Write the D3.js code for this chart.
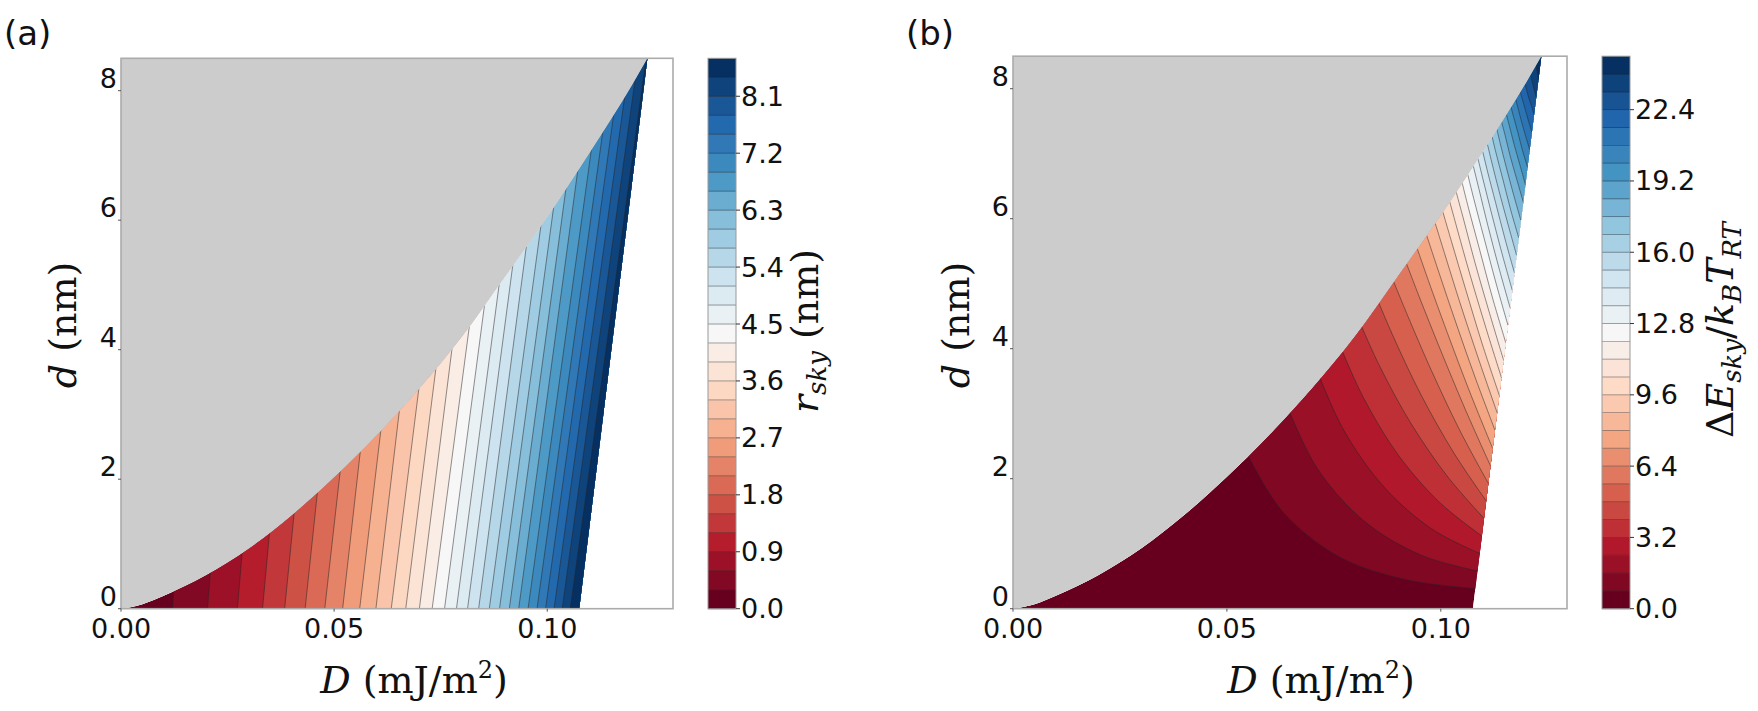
<!DOCTYPE html>
<html>
<head>
<meta charset="utf-8">
<style>
    body { margin: 0; background: white; }
    svg { display: block; }
    .tick { font-family: "DejaVu Sans", sans-serif; font-size: 27px; fill: #111; }
    .math { font-family: "DejaVu Serif", serif; font-size: 38px; fill: #111; }
    .plab { font-family: "DejaVu Sans", sans-serif; font-size: 34px; fill: #111; }
</style>
</head>
<body>

<svg id="fig" width="1758" height="711"></svg>

<script src="https://cdnjs.cloudflare.com/ajax/libs/d3/7.8.5/d3.min.js"></script>
<script>
    // ---- shared boundaries of the skyrmion region (D in mJ/m^2, d in nm) ----
    const grayD = [0, 0.005, 0.01, 0.02, 0.03, 0.04, 0.05, 0.06, 0.07, 0.08, 0.09, 0.10, 0.11, 0.12, 0.1235];
    const grayd = [0, 0.07, 0.2, 0.52, 0.93, 1.44, 2.03, 2.68, 3.4, 4.2, 5.12, 6.05, 7.05, 8.1, 8.5];
    const edgeD = [0.1075, 0.1235];   // right (collapse) boundary
    const edged = [0, 8.5];

    const xTicks = [0, 0.05, 0.10];
    const xTickLabels = ['0.00', '0.05', '0.10'];
    const yTicks = [0, 2, 4, 6, 8];

    // ---- panel (a): r_sky ----
    const rLevels = [0, 0.3, 0.6, 0.9, 1.2, 1.5, 1.8, 2.1, 2.4, 2.7, 3.0, 3.3, 3.6, 3.9, 4.2,
                     4.5, 4.8, 5.1, 5.4, 5.7, 6.0, 6.3, 6.6, 6.9, 7.2, 7.5, 7.8, 8.1, 8.4, 8.7];
    const rTicks = [0.0, 0.9, 1.8, 2.7, 3.6, 4.5, 5.4, 6.3, 7.2, 8.1];
    // contour lines (levels 0.3 .. 8.4): D at d = 0 and D at d = 8.5
    const rLineD0 = [0.0121, 0.0203, 0.0273, 0.0332, 0.0384, 0.0432, 0.0478, 0.0520, 0.0560, 0.0598,
                     0.0634, 0.0668, 0.0700, 0.0730, 0.0759, 0.0787, 0.0813, 0.0839, 0.0864, 0.0888,
                     0.0911, 0.0933, 0.0955, 0.0976, 0.0996, 0.1016, 0.1035, 0.1054];
    const rLineD1 = [0.0206, 0.0305, 0.0384, 0.0451, 0.0512, 0.0568, 0.0623, 0.0665, 0.0713, 0.0751,
                     0.0796, 0.0830, 0.0862, 0.0900, 0.0929, 0.0957, 0.0983, 0.1009, 0.1038, 0.1062,
                     0.1085, 0.1107, 0.1133, 0.1154, 0.1174, 0.1194, 0.1213, 0.1232];

    // ---- panel (b): dE_sky / kB T_RT ----
    const eLevels = [0, 0.8, 1.6, 2.4, 3.2, 4.0, 4.8, 5.6, 6.4, 7.2, 8.0, 8.8, 9.6, 10.4, 11.2, 12.0,
                     12.8, 13.6, 14.4, 15.2, 16.0, 16.8, 17.6, 18.4, 19.2, 20.0, 20.8, 21.6, 22.4, 23.2, 24.0, 24.8];
    const eTicks = [0.0, 3.2, 6.4, 9.6, 12.8, 16.0, 19.2, 22.4];
    // contour arcs (levels 0.8 .. 24.0), from the gray boundary to the right boundary: [D, d]
    const eArcs = [
        [[0.0550, 2.355], [0.0630, 1.496], [0.0762, 0.801], [0.0922, 0.443], [0.1081, 0.31]],
        [[0.0647, 3.018], [0.0713, 2.140], [0.0823, 1.336], [0.0954, 0.824], [0.1086, 0.58]],
        [[0.0718, 3.544], [0.0774, 2.736], [0.0867, 1.874], [0.0979, 1.227], [0.1091, 0.85]],
        [[0.0770, 3.960], [0.0819, 3.250], [0.0900, 2.370], [0.0998, 1.631], [0.1096, 1.12]],
        [[0.0815, 4.338], [0.0858, 3.719], [0.0929, 2.864], [0.1015, 2.039], [0.1101, 1.39]],
        [[0.0855, 4.706], [0.0893, 4.127], [0.0955, 3.274], [0.1031, 2.391], [0.1106, 1.66]],
        [[0.0890, 5.028], [0.0923, 4.501], [0.0978, 3.665], [0.1045, 2.735], [0.1111, 1.93]],
        [[0.0920, 5.306], [0.0949, 4.809], [0.0998, 4.001], [0.1057, 3.070], [0.1116, 2.20]],
        [[0.0945, 5.539], [0.0971, 5.048], [0.1015, 4.250], [0.1068, 3.329], [0.1121, 2.47]],
        [[0.0967, 5.743], [0.0991, 5.263], [0.1031, 4.482], [0.1079, 3.581], [0.1127, 2.74]],
        [[0.0987, 5.929], [0.1009, 5.462], [0.1045, 4.703], [0.1089, 3.827], [0.1132, 3.01]],
        [[0.1005, 6.100], [0.1025, 5.649], [0.1058, 4.916], [0.1097, 4.070], [0.1137, 3.28]],
        [[0.1021, 6.260], [0.1039, 5.826], [0.1069, 5.122], [0.1106, 4.309], [0.1142, 3.55]],
        [[0.1036, 6.410], [0.1053, 5.996], [0.1080, 5.322], [0.1114, 4.545], [0.1147, 3.82]],
        [[0.1050, 6.550], [0.1065, 6.156], [0.1091, 5.517], [0.1121, 4.779], [0.1152, 4.09]],
        [[0.1063, 6.680], [0.1077, 6.309], [0.1101, 5.706], [0.1129, 5.010], [0.1157, 4.36]],
        [[0.1076, 6.810], [0.1089, 6.461], [0.1110, 5.894], [0.1136, 5.240], [0.1162, 4.63]],
        [[0.1087, 6.920], [0.1099, 6.597], [0.1119, 6.072], [0.1143, 5.466], [0.1167, 4.90]],
        [[0.1098, 7.030], [0.1109, 6.732], [0.1128, 6.249], [0.1150, 5.691], [0.1172, 5.17]],
        [[0.1109, 7.145], [0.1119, 6.872], [0.1136, 6.429], [0.1157, 5.917], [0.1177, 5.44]],
        [[0.1120, 7.260], [0.1129, 7.012], [0.1145, 6.609], [0.1163, 6.144], [0.1182, 5.71]],
        [[0.1131, 7.380], [0.1139, 7.156], [0.1153, 6.792], [0.1170, 6.372], [0.1187, 5.98]],
        [[0.1142, 7.490], [0.1150, 7.292], [0.1162, 6.969], [0.1178, 6.597], [0.1193, 6.25]],
        [[0.1153, 7.610], [0.1160, 7.436], [0.1171, 7.152], [0.1185, 6.825], [0.1198, 6.52]],
        [[0.1164, 7.720], [0.1170, 7.571], [0.1180, 7.329], [0.1191, 7.050], [0.1203, 6.79]],
        [[0.1175, 7.840], [0.1180, 7.715], [0.1188, 7.512], [0.1198, 7.278], [0.1208, 7.06]],
        [[0.1186, 7.950], [0.1190, 7.851], [0.1197, 7.690], [0.1205, 7.504], [0.1213, 7.33]],
        [[0.1197, 8.070], [0.1200, 7.995], [0.1205, 7.873], [0.1212, 7.732], [0.1218, 7.60]],
        [[0.1210, 8.210], [0.1212, 8.156], [0.1215, 8.067], [0.1219, 7.965], [0.1223, 7.87]],
        [[0.1223, 8.360], [0.1224, 8.325], [0.1225, 8.268], [0.1227, 8.202], [0.1228, 8.14]]
    ];

    // ---- layout ----
    const boxA = {left: 121, right: 673, top: 58.3, bottom: 608.7, cbL: 708, cbR: 736, id: 'a',
                  tagX: 4, xlab: 414, ylab: 76, cblab: 818};
    const boxB = {left: 1013, right: 1567, top: 56.2, bottom: 608.7, cbL: 1602, cbR: 1630, id: 'b',
                  tagX: 906, xlab: 1321, ylab: 969, cblab: 1733};

    const rdbu = ['#67001f', '#b2182b', '#d6604d', '#f4a582', '#fddbc7', '#f7f7f7',
                  '#d1e5f0', '#92c5de', '#4393c3', '#2166ac', '#053061'];
    const cmap = d3.scaleLinear().domain(d3.range(11).map(i => i / 10)).range(rdbu).interpolate(d3.interpolateRgb);

    const svg = d3.select('#fig');
    const lineStyle = {stroke: '#262626', width: 0.6, opacity: 0.85};

    function setupPanel(box) {
        const x = d3.scaleLinear().domain([0, 0.1295]).range([box.left, box.right]);
        const y = d3.scaleLinear().domain([0, 8.5]).range([box.bottom, box.top]);
        const line = d3.line().x(p => x(p[0])).y(p => y(p[1]));
        const smooth = d3.line().x(p => x(p[0])).y(p => y(p[1])).curve(d3.curveMonotoneX);
        const grayPts = grayD.map((v, i) => [v, grayd[i]]);
        const validPath = smooth(grayPts) + `L${x(edgeD[0])},${y(edged[0])}Z`;
        const g = svg.append('g');
        g.append('clipPath').attr('id', 'clip-' + box.id).append('path').attr('d', validPath);
        const inner = g.append('g').attr('clip-path', `url(#clip-${box.id})`);
        return {x, y, line, smooth, grayPts, validPath, g, inner};
    }

    function finishPanel(P, box, levels, ticks, nb) {
        const {x, y, g} = P;
        // gray (no skyrmion) region
        g.append('path')
            .attr('d', P.smooth(P.grayPts) + `L${x(0)},${y(8.5)}Z`)
            .attr('fill', '#cccccc');
        // frame
        g.append('rect')
            .attr('x', box.left).attr('y', box.top)
            .attr('width', box.right - box.left).attr('height', box.bottom - box.top)
            .attr('fill', 'none').attr('stroke', '#ababab').attr('stroke-width', 1.6);
        // x ticks
        xTicks.forEach((t, i) => {
            g.append('line').attr('x1', x(t)).attr('x2', x(t))
                .attr('y1', box.bottom).attr('y2', box.bottom + 3)
                .attr('stroke', '#555').attr('stroke-width', 1);
            g.append('text').attr('class', 'tick').attr('x', x(t)).attr('y', box.bottom + 29)
                .attr('text-anchor', 'middle').text(xTickLabels[i]);
        });
        // y ticks
        yTicks.forEach(t => {
            g.append('line').attr('x1', box.left - 3).attr('x2', box.left)
                .attr('y1', y(t)).attr('y2', y(t))
                .attr('stroke', '#555').attr('stroke-width', 1);
            g.append('text').attr('class', 'tick').attr('x', box.left - 4).attr('y', y(t) - 3)
                .attr('text-anchor', 'end').text(t);
        });

        // colorbar
        const cy = d3.scaleLinear().domain([levels[0], levels[levels.length - 1]]).range([box.bottom, box.top]);
        const cb = svg.append('g');
        for (let j = 0; j < nb; j++) {
            cb.append('rect')
                .attr('x', box.cbL).attr('width', box.cbR - box.cbL)
                .attr('y', cy(levels[j + 1])).attr('height', cy(levels[j]) - cy(levels[j + 1]) + 0.5)
                .attr('fill', cmap(j / (nb - 1)));
        }
        levels.slice(1, -1).forEach(v => {
            cb.append('line').attr('x1', box.cbL).attr('x2', box.cbR)
                .attr('y1', cy(v)).attr('y2', cy(v))
                .attr('stroke', lineStyle.stroke).attr('stroke-width', 0.6).attr('opacity', 0.7);
        });
        cb.append('rect')
            .attr('x', box.cbL).attr('y', box.top)
            .attr('width', box.cbR - box.cbL).attr('height', box.bottom - box.top)
            .attr('fill', 'none').attr('stroke', '#999').attr('stroke-width', 1);
        ticks.forEach(t => {
            cb.append('line').attr('x1', box.cbR).attr('x2', box.cbR + 4)
                .attr('y1', cy(t)).attr('y2', cy(t))
                .attr('stroke', '#333').attr('stroke-width', 1);
            cb.append('text').attr('class', 'tick').attr('x', box.cbR + 5).attr('y', cy(t))
                .attr('dominant-baseline', 'central').text(t.toFixed(1));
        });

        // axis labels
        const xl = svg.append('text').attr('class', 'math')
            .attr('x', box.xlab).attr('y', 693).attr('text-anchor', 'middle');
        xl.append('tspan').attr('font-style', 'italic').text('D');
        xl.append('tspan').text(' (mJ/m');
        xl.append('tspan').attr('font-size', 24).attr('dy', -15).text('2');
        xl.append('tspan').attr('dy', 15).text(')');

        const yl = svg.append('text').attr('class', 'math')
            .attr('transform', `translate(${box.ylab},325) rotate(-90)`).attr('text-anchor', 'middle');
        yl.append('tspan').attr('font-style', 'italic').text('d');
        yl.append('tspan').text(' (nm)');

        svg.append('text').attr('class', 'plab').attr('x', box.tagX).attr('y', 45)
            .text(`(${box.id})`);
    }

    // ---------------- panel (a) ----------------
    const A = setupPanel(boxA);
    const nbA = rLevels.length - 1;
    A.inner.append('path').attr('d', A.validPath).attr('fill', cmap(0));
    rLineD0.forEach((b, i) => {
        const poly = [[b, 0], [rLineD1[i], 8.5], [0.2, 8.5], [0.2, 0]];
        A.inner.append('path').attr('d', A.line(poly) + 'Z').attr('fill', cmap((i + 1) / (nbA - 1)));
    });
    rLineD0.forEach((b, i) => {
        A.inner.append('path').attr('d', A.line([[b, 0], [rLineD1[i], 8.5]]))
            .attr('fill', 'none').attr('stroke', lineStyle.stroke)
            .attr('stroke-width', lineStyle.width).attr('opacity', lineStyle.opacity);
    });
    finishPanel(A, boxA, rLevels, rTicks, nbA);

    const la = svg.append('text').attr('class', 'math')
        .attr('transform', `translate(${boxA.cblab},331) rotate(-90)`).attr('text-anchor', 'middle');
    la.append('tspan').attr('font-style', 'italic').text('r');
    la.append('tspan').attr('font-style', 'italic').attr('font-size', 26).attr('dy', 8).text('sky');
    la.append('tspan').attr('dy', -8).text(' (nm)');

    // ---------------- panel (b) ----------------
    const B = setupPanel(boxB);
    const nbB = eLevels.length - 1;
    const arcLine = d3.line().x(p => B.x(p[0])).y(p => B.y(p[1])).curve(d3.curveCatmullRom.alpha(0.5));
    B.inner.append('path').attr('d', B.validPath).attr('fill', cmap(0));
    eArcs.forEach((arc, i) => {
        const s = arc[0], e = arc[arc.length - 1];
        const p = arcLine(arc) +
            `L${B.x(0.2)},${B.y(e[1])}L${B.x(0.2)},${B.y(20)}L${B.x(s[0])},${B.y(20)}Z`;
        B.inner.append('path').attr('d', p).attr('fill', cmap((i + 1) / (nbB - 1)));
    });
    eArcs.forEach(arc => {
        const e = arc[arc.length - 1];
        B.inner.append('path').attr('d', arcLine(arc) + `L${B.x(e[0] + 0.003)},${B.y(e[1])}`)
            .attr('fill', 'none').attr('stroke', lineStyle.stroke)
            .attr('stroke-width', lineStyle.width).attr('opacity', lineStyle.opacity);
    });
    finishPanel(B, boxB, eLevels, eTicks, nbB);

    const lb = svg.append('text').attr('class', 'math')
        .attr('transform', `translate(${boxB.cblab},330) rotate(-90)`).attr('text-anchor', 'middle');
    lb.append('tspan').text('Δ');
    lb.append('tspan').attr('font-style', 'italic').text('E');
    lb.append('tspan').attr('font-style', 'italic').attr('font-size', 26).attr('dy', 8).text('sky');
    lb.append('tspan').attr('dy', -8).text('/');
    lb.append('tspan').attr('font-style', 'italic').text('k');
    lb.append('tspan').attr('font-style', 'italic').attr('font-size', 26).attr('dy', 8).text('B');
    lb.append('tspan').attr('font-style', 'italic').attr('dy', -8).text('T');
    lb.append('tspan').attr('font-style', 'italic').attr('font-size', 26).attr('dy', 8).text('RT');
</script>

</body>
</html>
